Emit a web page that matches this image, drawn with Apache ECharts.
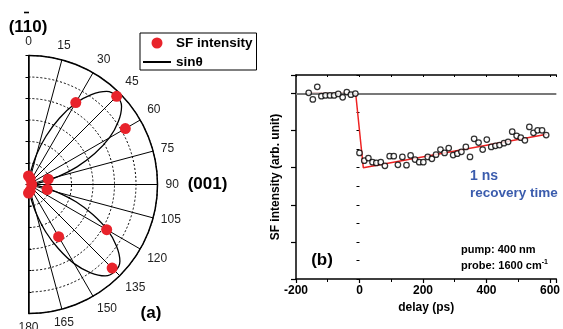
<!DOCTYPE html>
<html>
<head>
<meta charset="utf-8">
<script src="https://cdn.jsdelivr.net/npm/echarts@6/dist/echarts.min.js"></script>
<style>
  html, body { margin: 0; padding: 0; background: #fff; }
  #chart { width: 563px; height: 329px; }
</style>
</head>
<body>
<div id="chart"></div>
<script>
// (a) polar plot: angle in degrees, radius in arb. units (one dashed ring every 0.2)
const dotAngles = [0, 15, 30, 45, 60, 75, 90, 105, 120, 135, 150, 165, 180];
const dotRadii  = [0.08, 0.06, 0.88, 1.16, 1.04, 0.19, 0.03, 0.18, 0.84, 1.10, 0.56, 0.06, 0.08];

const curveAngles = [0, 5, 10, 15, 20, 25, 30, 35, 40, 45, 50, 55, 60, 65, 70, 75, 80, 85, 90,
                     95, 100, 105, 110, 115, 120, 125, 130, 135, 140, 145, 150, 155, 160, 165, 170, 175, 180];
const curveRadii  = [0, 0.04, 0.13, 0.29, 0.48, 0.68, 0.87, 1.02, 1.13, 1.16, 1.13, 1.02, 0.87, 0.68, 0.48, 0.29, 0.13, 0.04, 0,
                     0.04, 0.13, 0.28, 0.47, 0.66, 0.85, 1.00, 1.11, 1.14, 1.11, 1.00, 0.85, 0.66, 0.47, 0.28, 0.13, 0.04, 0];

// (b) SF intensity vs pump-probe delay
const delayPs = [-160, -147, -133, -120, -107, -93, -80, -67, -53, -40, -27, -13,
  0, 15, 28, 41, 53, 67, 80, 95, 108, 121, 135, 148, 161, 175, 188, 201, 215, 228, 241, 255, 268, 281,
  295, 308, 321, 335, 348, 361, 375, 388, 401, 415, 428, 441, 455, 468, 481, 495, 508, 521, 535, 548, 561, 575, 588];
const sfSignal = [5.02, 4.84, 5.18, 4.93, 4.95, 4.95, 4.95, 4.99, 4.90, 5.04, 4.97, 5.00,
  3.40, 3.19, 3.26, 3.15, 3.13, 3.15, 3.05, 3.31, 3.31, 3.08, 3.29, 3.07, 3.33, 3.22, 3.15, 3.15, 3.29, 3.24, 3.35, 3.49, 3.40, 3.53,
  3.34, 3.38, 3.43, 3.56, 3.29, 3.78, 3.68, 3.49, 3.76, 3.56, 3.59, 3.61, 3.66, 3.70, 3.97, 3.86, 3.81, 3.74, 4.10, 3.94, 4.01, 4.01, 3.88];

const fitDelay  = [-165, -12, 12, 590];
const fitSignal = [5, 5, 3.0, 3.9];
const baseline = 5;

const xTicks = [-200, 0, 200, 400, 600];

const FONT = '"Liberation Sans", Arial, sans-serif';
const chart = echarts.init(document.getElementById('chart'));

const radiusBase = {
  type: 'value', min: 0, max: 1.2, interval: 0.2,
  axisLine: { lineStyle: { color: '#000', width: 1.5 } },
  axisTick: { show: true, length: 3, lineStyle: { color: '#000' } },
  axisLabel: { show: false }
};

const option = {
  animation: false,
  textStyle: { fontFamily: FONT },
  polar: [
    { center: [28.5, 184.5], radius: 129 },
    { center: [28.5, 184.5], radius: 129 }
  ],
  angleAxis: [
    {
      polarIndex: 0, type: 'value', min: 0, max: 180, interval: 15,
      startAngle: 90, endAngle: -90, clockwise: true,
      axisLine: { lineStyle: { color: '#000', width: 1.5 } },
      axisTick: { show: false },
      axisLabel: { fontSize: 12, color: '#222', margin: 8 },
      splitLine: { show: true, lineStyle: { color: '#000', width: 1 } }
    },
    {
      polarIndex: 1, type: 'value', min: 0, max: 180,
      startAngle: 270, endAngle: 90, clockwise: true, show: false
    }
  ],
  radiusAxis: [
    Object.assign({ polarIndex: 0, splitLine: { show: true, lineStyle: { color: '#000', width: 1, type: [2, 2] } } }, radiusBase),
    Object.assign({ polarIndex: 1, splitLine: { show: false } }, radiusBase)
  ],
  legend: {
    left: 140, top: 33, orient: 'vertical',
    data: [
      { name: 'SF intensity', icon: 'circle' },
      { name: 'sinθ', itemStyle: { opacity: 0 } }
    ],
    itemWidth: 28, itemHeight: 11, itemGap: 3,
    padding: [2, 4, 0, 2],
    borderColor: '#000', borderWidth: 1,
    textStyle: { fontSize: 13.5, fontWeight: 'bold', color: '#000', lineHeight: 16 }
  },
  grid: { left: 296, top: 75, width: 266.5, height: 204 },
  xAxis: [
    {
      type: 'value', position: 'bottom', min: -200, max: 620, interval: 200,
      axisLine: { onZero: false, lineStyle: { color: '#000', width: 1.5 } },
      axisTick: { length: 4, lineStyle: { color: '#000', width: 1.2 } },
      minorTick: { show: true, splitNumber: 2, length: 3, lineStyle: { color: '#000', width: 1 } },
      axisLabel: {
        fontSize: 12, fontWeight: 'bold', color: '#000', margin: 6, showMaxLabel: false,
        formatter: v => (xTicks.indexOf(v) >= 0 ? String(v) : '')
      },
      splitLine: { show: false },
      name: 'delay (ps)', nameLocation: 'middle', nameGap: 22,
      nameTextStyle: { fontSize: 12, fontWeight: 'bold', color: '#000' }
    },
    {
      type: 'value', position: 'top', min: -200, max: 620, interval: 100,
      axisLine: { onZero: false, lineStyle: { color: '#000', width: 1.5 } },
      axisTick: { inside: true, length: 2, lineStyle: { color: '#000' } },
      axisLabel: { show: false }, splitLine: { show: false }
    }
  ],
  yAxis: [
    {
      type: 'value', position: 'left', min: 0, max: 5.5, interval: 1,
      axisLine: { onZero: false, lineStyle: { color: '#000', width: 1.5 } },
      axisTick: { length: 5, lineStyle: { color: '#000', width: 1.2 } },
      axisLabel: { show: false }, splitLine: { show: false },
      name: 'SF intensity (arb. unit)', nameLocation: 'middle', nameGap: 14,
      nameTextStyle: { fontSize: 12, fontWeight: 'bold', color: '#000' }
    },
    {
      type: 'value', position: 'left', min: 0, max: 5.5, interval: 0.5,
      axisLine: { show: false },
      axisTick: { length: 3, lineStyle: { color: '#000', width: 1 } },
      axisLabel: { show: false }, splitLine: { show: false }
    }
  ],
  series: [
    {
      name: 'sinθ', type: 'line', coordinateSystem: 'polar', polarIndex: 0,
      data: curveAngles.map((a, i) => [curveRadii[i], a]),
      symbol: 'none', smooth: 0.3,
      lineStyle: { color: '#000', width: 1.3 }, itemStyle: { color: '#000' }
    },
    {
      name: 'SF intensity', type: 'scatter', coordinateSystem: 'polar', polarIndex: 0,
      data: dotAngles.map((a, i) => [dotRadii[i], a]),
      symbolSize: 11, itemStyle: { color: '#e8232b', opacity: 1 }, z: 5
    },
    {
      name: 'fit flat', type: 'line', xAxisIndex: 0, yAxisIndex: 0,
      data: fitDelay.slice(0, 2).map((d, i) => [d, fitSignal[i]]),
      symbol: 'none', lineStyle: { color: '#8a1f1f', width: 1.5 }, z: 4,
      markLine: {
        silent: true, symbol: 'none', label: { show: false },
        lineStyle: { color: '#787878', type: 'solid', width: 2 },
        data: [{ yAxis: baseline }]
      }
    },
    {
      name: 'fit', type: 'line', xAxisIndex: 0, yAxisIndex: 0,
      data: fitDelay.slice(1).map((d, i) => [d, fitSignal[i + 1]]),
      symbol: 'none', lineStyle: { color: '#ee2222', width: 1.5 }, z: 4
    },
    {
      name: 'data', type: 'scatter', xAxisIndex: 0, yAxisIndex: 0,
      data: delayPs.map((d, i) => [d, sfSignal[i]]),
      symbol: 'circle', symbolSize: 5.5,
      itemStyle: { color: '#fff', borderColor: '#000', borderWidth: 1.25 }, z: 6
    }
  ],
  graphic: [
    { type: 'text', x: 28, y: 27, style: { text: '(110)', font: 'bold 17px ' + FONT, fill: '#000', align: 'center', verticalAlign: 'middle' } },
    // bar over the second "1" of the Miller index
    { type: 'line', shape: { x1: 24, y1: 12.5, x2: 29, y2: 12.5 }, style: { stroke: '#000', lineWidth: 1.6 } },
    { type: 'text', x: 207.5, y: 184.5, style: { text: '(001)', font: 'bold 17px ' + FONT, fill: '#000', align: 'center', verticalAlign: 'middle' } },
    { type: 'text', x: 151, y: 313, style: { text: '(a)', font: 'bold 17px ' + FONT, fill: '#000', align: 'center', verticalAlign: 'middle' } },
    { type: 'text', x: 322, y: 260, style: { text: '(b)', font: 'bold 17px ' + FONT, fill: '#000', align: 'center', verticalAlign: 'middle' } },
    { type: 'text', x: 470, y: 176, style: { text: '1 ns', font: 'bold 14px ' + FONT, fill: '#3b5cad', align: 'left', verticalAlign: 'middle' } },
    { type: 'text', x: 470, y: 193, style: { text: 'recovery time', font: 'bold 13.5px ' + FONT, fill: '#3b5cad', align: 'left', verticalAlign: 'middle' } },
    { type: 'text', x: 461, y: 250, style: { text: 'pump: 400 nm', font: 'bold 11px ' + FONT, fill: '#000', align: 'left', verticalAlign: 'middle' } },
    {
      type: 'text', x: 461, y: 266,
      style: {
        text: 'probe: 1600 cm{sup|-1}', font: 'bold 11px ' + FONT, fill: '#000', align: 'left', verticalAlign: 'middle',
        rich: { sup: { fontSize: 7, fontWeight: 'bold', fontFamily: FONT, fill: '#000', verticalAlign: 'top', lineHeight: 14 } }
      }
    }
  ]
};

chart.setOption(option);
window.addEventListener('resize', () => chart.resize());
</script>
</body>
</html>
